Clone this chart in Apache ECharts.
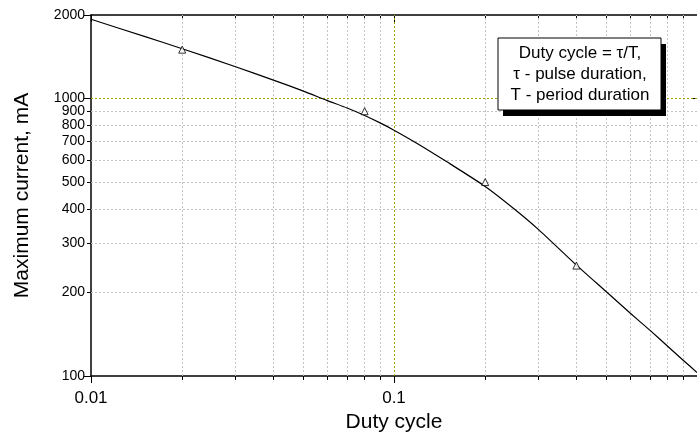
<!DOCTYPE html>
<html><head><meta charset="utf-8">
<script src="https://cdn.jsdelivr.net/npm/echarts@6/dist/echarts.min.js"></script>
<style>html,body{margin:0;padding:0;background:#fff}#c{width:697px;height:432px}</style>
</head><body><div id="c"></div>
<script>
// Fitted curve
const curveX = [0.01, 0.015, 0.02, 0.03, 0.04, 0.05, 0.06, 0.07, 0.08, 0.09, 0.1, 0.12, 0.15, 0.2, 0.25, 0.3, 0.4, 0.5, 0.6, 0.7, 0.8, 0.9, 1.0];
const curveY = [1930, 1675, 1512, 1302, 1165, 1066, 985, 924, 869, 817, 769, 686, 590, 482, 399, 337, 251, 202, 169, 146, 128, 114, 103];
// Measured points (triangles)
const markerX = [0.02, 0.08, 0.2, 0.4];
const markerY = [1500, 900, 500, 250];
// Ticks and grid
const yTickValues = [100, 200, 300, 400, 500, 600, 700, 800, 900, 1000, 2000];
const yMajorTicks = [100, 1000, 2000];
const yGridValues = [200, 300, 400, 500, 600, 700, 800, 900];
const xTickValues = [0.01, 0.02, 0.03, 0.04, 0.05, 0.06, 0.07, 0.08, 0.09, 0.1, 0.2, 0.3, 0.4, 0.5, 0.6, 0.7, 0.8, 0.9, 1];
const xMajorTicks = [0.01, 0.1, 1];
const xLabelValues = [0.01, 0.1];
const xGridValues = [0.02, 0.03, 0.04, 0.05, 0.06, 0.07, 0.08, 0.09, 0.2, 0.3, 0.4, 0.5, 0.6, 0.7, 0.8, 0.9];
const refX = 0.1, refY = 1000;
const noteLines = ['Duty cycle = \u03c4/T,', '\u03c4 - pulse duration,', 'T - period duration'];

const FONT = '"Liberation Sans", Arial, sans-serif';
const chart = echarts.init(document.getElementById('c'), null, {renderer: 'canvas'});
const fmt = v => String(+(+v).toPrecision(3));
const gridStyle = {type: [2, 2], color: '#c4c4c4', width: 1};
const refStyle = {type: [2, 2], color: '#a0a000', width: 1};
const tickLine = {color: '#000', width: 1};

function xAx(pos, ticks, len, inside, extra) {
  return Object.assign({type: 'log', logBase: 10, min: 0.01, max: 1, position: pos,
    axisLine: {show: false, lineStyle: {color: '#000', width: 1.5}},
    axisTick: {show: true, inside: inside, length: len, customValues: ticks, lineStyle: tickLine},
    axisLabel: {show: false}, splitLine: {show: false}}, extra || {});
}
function yAx(pos, ticks, len, inside, extra) {
  return Object.assign({type: 'log', logBase: 10, min: 100, max: 2000, position: pos,
    axisLine: {show: false, lineStyle: {color: '#000', width: 1.5}},
    axisTick: {show: true, inside: inside, length: len, customValues: ticks, lineStyle: tickLine},
    axisLabel: {show: false}, splitLine: {show: false}}, extra || {});
}

const option = {
  animation: false,
  backgroundColor: '#fff',
  textStyle: {fontFamily: FONT},
  grid: {left: 91, right: 0, top: 15, bottom: 56, containLabel: false, outerBoundsMode: 'none'},
  xAxis: [
    xAx('bottom', xTickValues, 4, false, {
      axisLine: {show: true, lineStyle: {color: '#000', width: 1.5}},
      axisLabel: {show: true, customValues: xLabelValues, formatter: fmt, fontSize: 17, color: '#000', margin: 14, fontFamily: FONT},
      name: 'Duty cycle', nameLocation: 'middle', nameGap: 31,
      nameTextStyle: {fontSize: 21, color: '#000', fontFamily: FONT}}),
    xAx('top', xTickValues, 4, true, {axisLine: {show: true, lineStyle: {color: '#000', width: 1.5}}}),
    xAx('bottom', xMajorTicks, 7, false),
    xAx('top', xMajorTicks, 7, true)
  ],
  yAxis: [
    yAx('left', yTickValues, 4, false, {
      axisLine: {show: true, lineStyle: {color: '#000', width: 1.5}},
      axisLabel: {show: true, customValues: yTickValues, formatter: fmt, fontSize: 14, color: '#000', margin: 6, fontFamily: FONT},
      name: 'Maximum current, mA', nameLocation: 'middle', nameGap: 58,
      nameTextStyle: {fontSize: 21, color: '#000', fontFamily: FONT}}),
    yAx('right', [1000], 4, true),
    yAx('left', yMajorTicks, 7, false)
  ],
  series: [
    {type: 'line', xAxisIndex: 0, yAxisIndex: 0, silent: true,
     data: [],
     markLine: {symbol: 'none', silent: true, label: {show: false}, lineStyle: gridStyle,
       data: yGridValues.map(v => ({yAxis: v})).concat(xGridValues.map(v => ({xAxis: v})))}},
    {type: 'line', xAxisIndex: 0, yAxisIndex: 0, silent: true,
     data: [],
     markLine: {symbol: 'none', silent: true, label: {show: false}, lineStyle: refStyle,
       data: [{yAxis: refY}, {xAxis: refX}]}},
    {type: 'line', xAxisIndex: 0, yAxisIndex: 0, smooth: 0.2, showSymbol: false,
     lineStyle: {color: '#000', width: 1.2}, z: 5,
     data: curveX.map((x, i) => [x, curveY[i]])},
    {type: 'scatter', xAxisIndex: 0, yAxisIndex: 0, symbol: 'triangle', symbolSize: 7, z: 6,
     itemStyle: {color: '#fff', borderColor: '#000', borderWidth: 1},
     data: markerX.map((x, i) => [x, markerY[i]])}
  ],
  graphic: [
    {type: 'rect', z: 100, shape: {x: 503, y: 44, width: 163, height: 72}, style: {fill: '#000'}},
    {type: 'rect', z: 101, shape: {x: 498, y: 38, width: 163, height: 72}, style: {fill: '#fff', stroke: '#000', lineWidth: 1}},
    {type: 'text', z: 102, x: 580, y: 43, style: {
      text: noteLines.join('\n'), align: 'center', verticalAlign: 'top',
      font: '17px ' + FONT, fill: '#000', lineHeight: 21}}
  ]
};
chart.setOption(option);
</script></body></html>
